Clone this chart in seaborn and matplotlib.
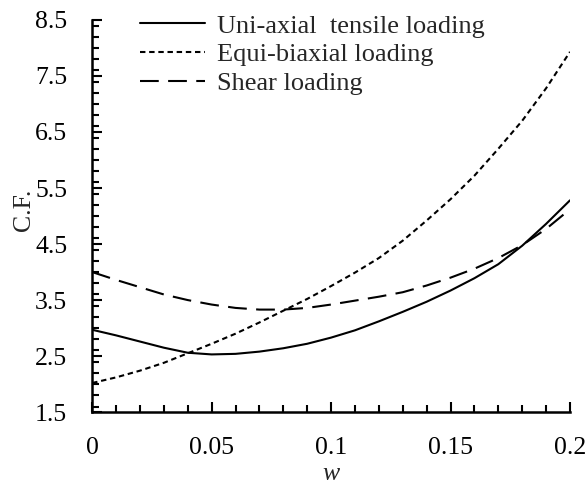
import numpy as np
import pandas as pd
import matplotlib
matplotlib.use("Agg")
import matplotlib.pyplot as plt
import seaborn as sns
from matplotlib.ticker import MultipleLocator, FixedLocator

w = [0.00, 0.01, 0.02, 0.03, 0.04, 0.05, 0.06, 0.07, 0.08, 0.09, 0.10,
     0.11, 0.12, 0.13, 0.14, 0.15, 0.16, 0.17, 0.18, 0.19, 0.20]
uniaxial = [2.97, 2.87, 2.76, 2.65, 2.56, 2.53, 2.54, 2.58, 2.64, 2.72, 2.83,
            2.96, 3.12, 3.29, 3.47, 3.67, 3.89, 4.14, 4.47, 4.86, 5.28]
equibiaxial = [2.02, 2.12, 2.24, 2.38, 2.55, 2.72, 2.90, 3.10, 3.31, 3.52, 3.75,
               3.99, 4.25, 4.56, 4.92, 5.30, 5.72, 6.20, 6.70, 7.28, 7.93]
shear = [4.00, 3.86, 3.73, 3.60, 3.50, 3.42, 3.36, 3.33, 3.33, 3.36, 3.42,
         3.49, 3.56, 3.64, 3.76, 3.90, 4.06, 4.25, 4.48, 4.77, 5.12]
series_names = ["Uni-axial  tensile loading", "Equi-biaxial loading", "Shear loading"]
x_ticks = [0, 0.05, 0.1, 0.15, 0.2]
x_tick_labels = ["0", "0.05", "0.1", "0.15", "0.2"]
y_ticks = [1.5, 2.5, 3.5, 4.5, 5.5, 6.5, 7.5, 8.5]
y_tick_labels = ["1.5", "2.5", "3.5", "4.5", "5.5", "6.5", "7.5", "8.5"]

df = pd.DataFrame({
    "w": w * 3,
    "value": uniaxial + equibiaxial + shear,
    "series": [series_names[0]] * len(w) + [series_names[1]] * len(w) + [series_names[2]] * len(w),
})

sns.set_theme(style="ticks")
plt.rcParams["font.family"] = ["Liberation Serif", "DejaVu Serif"]

FS = 18.5

fig = plt.figure(figsize=(5.87, 4.86), dpi=100)
ax = fig.add_axes([0.157, 0.152, 0.814, 0.807])

styles = {
    series_names[0]: "-",
    series_names[1]: (0, (2.6, 1.8)),
    series_names[2]: (0, (9, 4.5)),
}
for name in series_names:
    sub = df[df["series"] == name]
    sns.lineplot(data=sub, x="w", y="value", ax=ax, color="black", lw=1.5,
                 linestyle=styles[name], label=name, estimator=None)

ax.set_xlim(0, 0.2)
ax.set_ylim(1.5, 8.5)
ax.xaxis.set_major_locator(FixedLocator(x_ticks))
ax.set_xticklabels(x_tick_labels)
ax.xaxis.set_minor_locator(MultipleLocator(0.01))
ax.yaxis.set_major_locator(FixedLocator(y_ticks))
ax.set_yticklabels(y_tick_labels)
ax.yaxis.set_minor_locator(MultipleLocator(0.2))

ax.tick_params(axis="both", which="major", direction="in", length=7, width=1.5,
               labelsize=FS, color="black", labelcolor="black")
ax.tick_params(axis="x", which="major", pad=18)
ax.tick_params(axis="y", which="major", pad=18)
ax.tick_params(axis="both", which="minor", direction="in", length=5, width=1.5,
               color="black")
for side in ["top", "right"]:
    ax.spines[side].set_visible(False)
for side in ["left", "bottom"]:
    ax.spines[side].set_linewidth(1.8)
    ax.spines[side].set_color("black")

ax.set_xlabel("w", fontsize=FS, style="italic", labelpad=3)
ax.set_ylabel("C.F.", fontsize=FS)
ax.yaxis.set_label_coords(-0.12, 0.515)

ax.legend(loc="upper left", bbox_to_anchor=(0.1, 1.015), frameon=False,
          fontsize=19, handlelength=2.46, handletextpad=0.45, labelspacing=0.2,
          borderaxespad=0, borderpad=0)

fig.savefig("out.png", dpi=100)
